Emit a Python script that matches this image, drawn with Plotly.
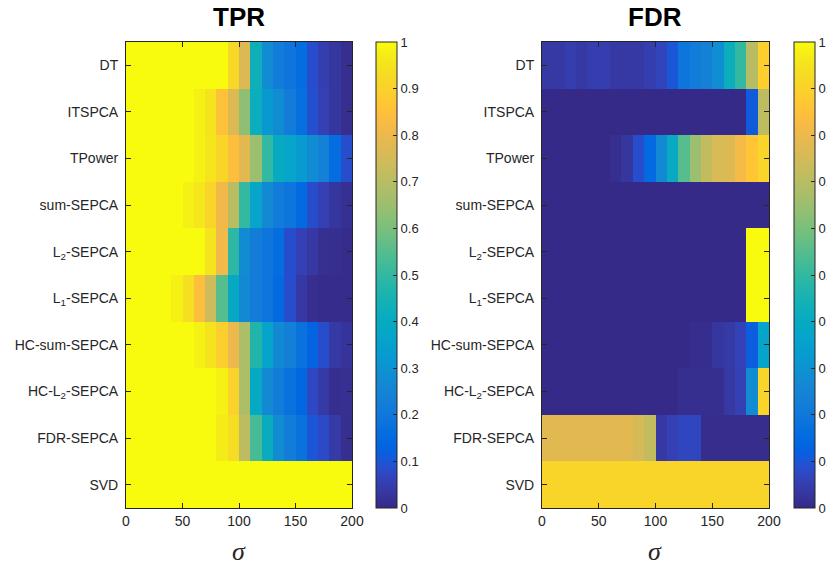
import plotly.graph_objects as go

# Methods (rows, top to bottom) and noise levels sigma (column centres)
methods = ["DT", "ITSPCA", "TPower", "sum-SEPCA", "L<sub>2</sub>-SEPCA",
           "L<sub>1</sub>-SEPCA", "HC-sum-SEPCA", "HC-L<sub>2</sub>-SEPCA",
           "FDR-SEPCA", "SVD"]
sigma = [5, 15, 25, 35, 45, 55, 65, 75, 85, 95,
         105, 115, 125, 135, 145, 155, 165, 175, 185, 195]
x_ticks = [0, 50, 100, 150, 200]

# True positive rate
tpr_dt = [1, 1, 1, 1, 1, 1, 1, 1, 1, 0.92, 0.77, 0.43, 0.28, 0.22, 0.19, 0.16, 0.085, 0.05, 0.03, 0.012]
tpr_itspca = [1, 1, 1, 1, 1, 1, 0.98, 0.95, 0.85, 0.77, 0.63, 0.42, 0.32, 0.28, 0.22, 0.17, 0.09, 0.055, 0.03, 0.012]
tpr_tpower = [1, 1, 1, 1, 1, 1, 0.98, 0.955, 0.91, 0.84, 0.78, 0.65, 0.5, 0.4, 0.37, 0.33, 0.28, 0.24, 0.16, 0.085]
tpr_sum = [1, 1, 1, 1, 1, 0.98, 0.96, 0.91, 0.81, 0.7, 0.5, 0.37, 0.27, 0.22, 0.19, 0.15, 0.085, 0.055, 0.03, 0.015]
tpr_l2 = [1, 1, 1, 1, 1, 1, 1, 0.95, 0.81, 0.49, 0.28, 0.22, 0.19, 0.16, 0.085, 0.055, 0.035, 0.015, 0.012, 0.005]
tpr_l1 = [1, 1, 1, 1, 0.98, 0.94, 0.84, 0.74, 0.55, 0.39, 0.27, 0.22, 0.19, 0.15, 0.085, 0.035, 0.012, 0.005, 0.005, 0.005]
tpr_hcsum = [1, 1, 1, 1, 1, 1, 0.98, 0.95, 0.89, 0.8, 0.68, 0.47, 0.36, 0.27, 0.23, 0.18, 0.13, 0.085, 0.04, 0.025]
tpr_hcl2 = [1, 1, 1, 1, 1, 1, 1, 1, 0.98, 0.9, 0.68, 0.39, 0.27, 0.22, 0.18, 0.14, 0.075, 0.04, 0.012, 0.015]
tpr_fdr = [1, 1, 1, 1, 1, 1, 1, 1, 0.97, 0.93, 0.71, 0.53, 0.41, 0.28, 0.22, 0.18, 0.1, 0.08, 0.04, 0.012]
tpr_svd = [1] * 20

# False discovery rate
fdr_dt = [0.035, 0.035, 0.05, 0.035, 0.05, 0.05, 0.035, 0.035, 0.035, 0.05, 0.065, 0.1, 0.19, 0.22, 0.24, 0.29, 0.42, 0.5, 0.7, 0.89]
fdr_itspca = [0] * 18 + [0.11, 0.71]
fdr_tpower = [0, 0, 0, 0, 0, 0, 0.012, 0.03, 0.085, 0.15, 0.27, 0.4, 0.55, 0.65, 0.72, 0.76, 0.77, 0.82, 0.865, 0.91]
fdr_sum = [0] * 20
fdr_l2 = [0] * 18 + [1, 1]
fdr_l1 = [0] * 18 + [1, 1]
fdr_hcsum = [0] * 13 + [0.01, 0.01, 0.03, 0.04, 0.06, 0.115, 0.36]
fdr_hcl2 = [0] * 12 + [0.012, 0.012, 0.012, 0.012, 0.035, 0.055, 0.28, 0.91]
fdr_fdr = [0.78] * 8 + [0.755, 0.72, 0.035, 0.055, 0.07, 0.07, 0.008, 0.008, 0.008, 0.008, 0.008, 0.008]
fdr_svd = [0.91] * 20

tpr = [tpr_dt, tpr_itspca, tpr_tpower, tpr_sum, tpr_l2, tpr_l1, tpr_hcsum, tpr_hcl2, tpr_fdr, tpr_svd]
fdr = [fdr_dt, fdr_itspca, fdr_tpower, fdr_sum, fdr_l2, fdr_l1, fdr_hcsum, fdr_hcl2, fdr_fdr, fdr_svd]

# MATLAB parula colormap (64 entries)
parula = [
    (0.2081, 0.1663, 0.5292), (0.2116, 0.1898, 0.5777), (0.2123, 0.2138, 0.6270), (0.2081, 0.2386, 0.6771),
    (0.1959, 0.2645, 0.7279), (0.1707, 0.2919, 0.7792), (0.1253, 0.3242, 0.8303), (0.0591, 0.3598, 0.8683),
    (0.0117, 0.3875, 0.8820), (0.0060, 0.4086, 0.8828), (0.0165, 0.4266, 0.8786), (0.0329, 0.4430, 0.8720),
    (0.0498, 0.4586, 0.8641), (0.0629, 0.4737, 0.8554), (0.0723, 0.4887, 0.8467), (0.0779, 0.5040, 0.8384),
    (0.0793, 0.5200, 0.8312), (0.0749, 0.5375, 0.8263), (0.0641, 0.5570, 0.8240), (0.0488, 0.5772, 0.8228),
    (0.0343, 0.5966, 0.8199), (0.0265, 0.6137, 0.8135), (0.0239, 0.6287, 0.8038), (0.0231, 0.6418, 0.7913),
    (0.0228, 0.6535, 0.7768), (0.0267, 0.6642, 0.7607), (0.0384, 0.6743, 0.7436), (0.0590, 0.6838, 0.7254),
    (0.0843, 0.6928, 0.7062), (0.1133, 0.7015, 0.6859), (0.1453, 0.7098, 0.6646), (0.1801, 0.7177, 0.6424),
    (0.2178, 0.7250, 0.6193), (0.2586, 0.7317, 0.5954), (0.3022, 0.7376, 0.5712), (0.3482, 0.7424, 0.5473),
    (0.3953, 0.7459, 0.5244), (0.4420, 0.7481, 0.5033), (0.4871, 0.7491, 0.4840), (0.5300, 0.7491, 0.4661),
    (0.5709, 0.7485, 0.4494), (0.6099, 0.7473, 0.4337), (0.6473, 0.7456, 0.4188), (0.6834, 0.7435, 0.4044),
    (0.7184, 0.7411, 0.3905), (0.7525, 0.7384, 0.3768), (0.7858, 0.7356, 0.3633), (0.8185, 0.7327, 0.3498),
    (0.8507, 0.7299, 0.3360), (0.8824, 0.7274, 0.3217), (0.9139, 0.7258, 0.3063), (0.9450, 0.7261, 0.2886),
    (0.9739, 0.7314, 0.2666), (0.9938, 0.7455, 0.2403), (0.9990, 0.7653, 0.2164), (0.9955, 0.7861, 0.1967),
    (0.9880, 0.8066, 0.1794), (0.9789, 0.8271, 0.1633), (0.9697, 0.8481, 0.1475), (0.9626, 0.8705, 0.1309),
    (0.9589, 0.8949, 0.1132), (0.9598, 0.9218, 0.0948), (0.9661, 0.9514, 0.0755), (0.9763, 0.9831, 0.0538),
]
colorscale = [[i / (len(parula) - 1), "rgb(%d,%d,%d)" % tuple(round(c * 255) for c in rgb)]
              for i, rgb in enumerate(parula)]

W, H = 827, 567
AX = "#262626"
FONT = "Liberation Sans, Arial, Helvetica, sans-serif"
rows = list(range(len(methods)))

def px_x(p):
    return p / W

def px_y(p):
    return (H - p) / H

top, bottom = 42, 508

def colorbar(left):
    return dict(
        x=px_x(left), xanchor="left", y=px_y(bottom), yanchor="bottom",
        len=bottom - top, lenmode="pixels", thickness=21, thicknessmode="pixels",
        xpad=0, ypad=0, outlinewidth=1, outlinecolor=AX,
        tickmode="array", tickvals=[i / 10 for i in range(11)],
        ticktext=["0", "0.1", "0.2", "0.3", "0.4", "0.5", "0.6", "0.7", "0.8", "0.9", "1"],
        ticks="inside", ticklen=4, tickcolor=AX, tickwidth=1,
        tickfont=dict(family=FONT, size=13, color=AX),
    )

fig = go.Figure()
fig.add_trace(go.Heatmap(x=sigma, y=rows, z=tpr, zmin=0, zmax=1, colorscale=colorscale,
                         xaxis="x", yaxis="y", colorbar=colorbar(376), hoverongaps=False))
fig.add_trace(go.Heatmap(x=sigma, y=rows, z=fdr, zmin=0, zmax=1, colorscale=colorscale,
                         xaxis="x2", yaxis="y2", colorbar=colorbar(794), hoverongaps=False))

axis_common = dict(showline=True, linecolor=AX, linewidth=1, mirror="ticks",
                   ticks="inside", ticklen=5, tickcolor=AX, tickwidth=1,
                   showgrid=False, zeroline=False,
                   tickfont=dict(family=FONT, size=14, color=AX))

xcommon = dict(axis_common, range=[0, 200], tickmode="array", tickvals=x_ticks,
               ticktext=[str(v) for v in x_ticks])
ycommon = dict(axis_common, range=[9.5, -0.5], tickmode="array", tickvals=rows, ticktext=methods,
               ticklabelstandoff=4)

def label(text, xp, yp, size, family, color):
    return dict(text=text, x=px_x(xp), y=px_y(yp), xref="paper", yref="paper",
                xanchor="center", yanchor="middle", showarrow=False,
                font=dict(family=family, size=size, color=color))

fig.update_layout(
    width=W, height=H,
    margin=dict(l=0, r=0, t=0, b=0, autoexpand=False),
    paper_bgcolor="white", plot_bgcolor="white",
    xaxis=dict(xcommon, domain=[px_x(126), px_x(352)], anchor="y"),
    yaxis=dict(ycommon, domain=[px_y(bottom), px_y(top)], anchor="x"),
    xaxis2=dict(xcommon, domain=[px_x(542), px_x(769)], anchor="y2"),
    yaxis2=dict(ycommon, domain=[px_y(bottom), px_y(top)], anchor="x2"),
    annotations=[
        label("<b>TPR</b>", 239, 17, 26, FONT, "black"),
        label("<b>FDR</b>", 655, 17, 26, FONT, "black"),
        label("<i>σ</i>", 239, 551, 26, "Liberation Serif, serif", AX),
        label("<i>σ</i>", 655, 551, 26, "Liberation Serif, serif", AX),
    ],
)

fig.write_html("out.html")
